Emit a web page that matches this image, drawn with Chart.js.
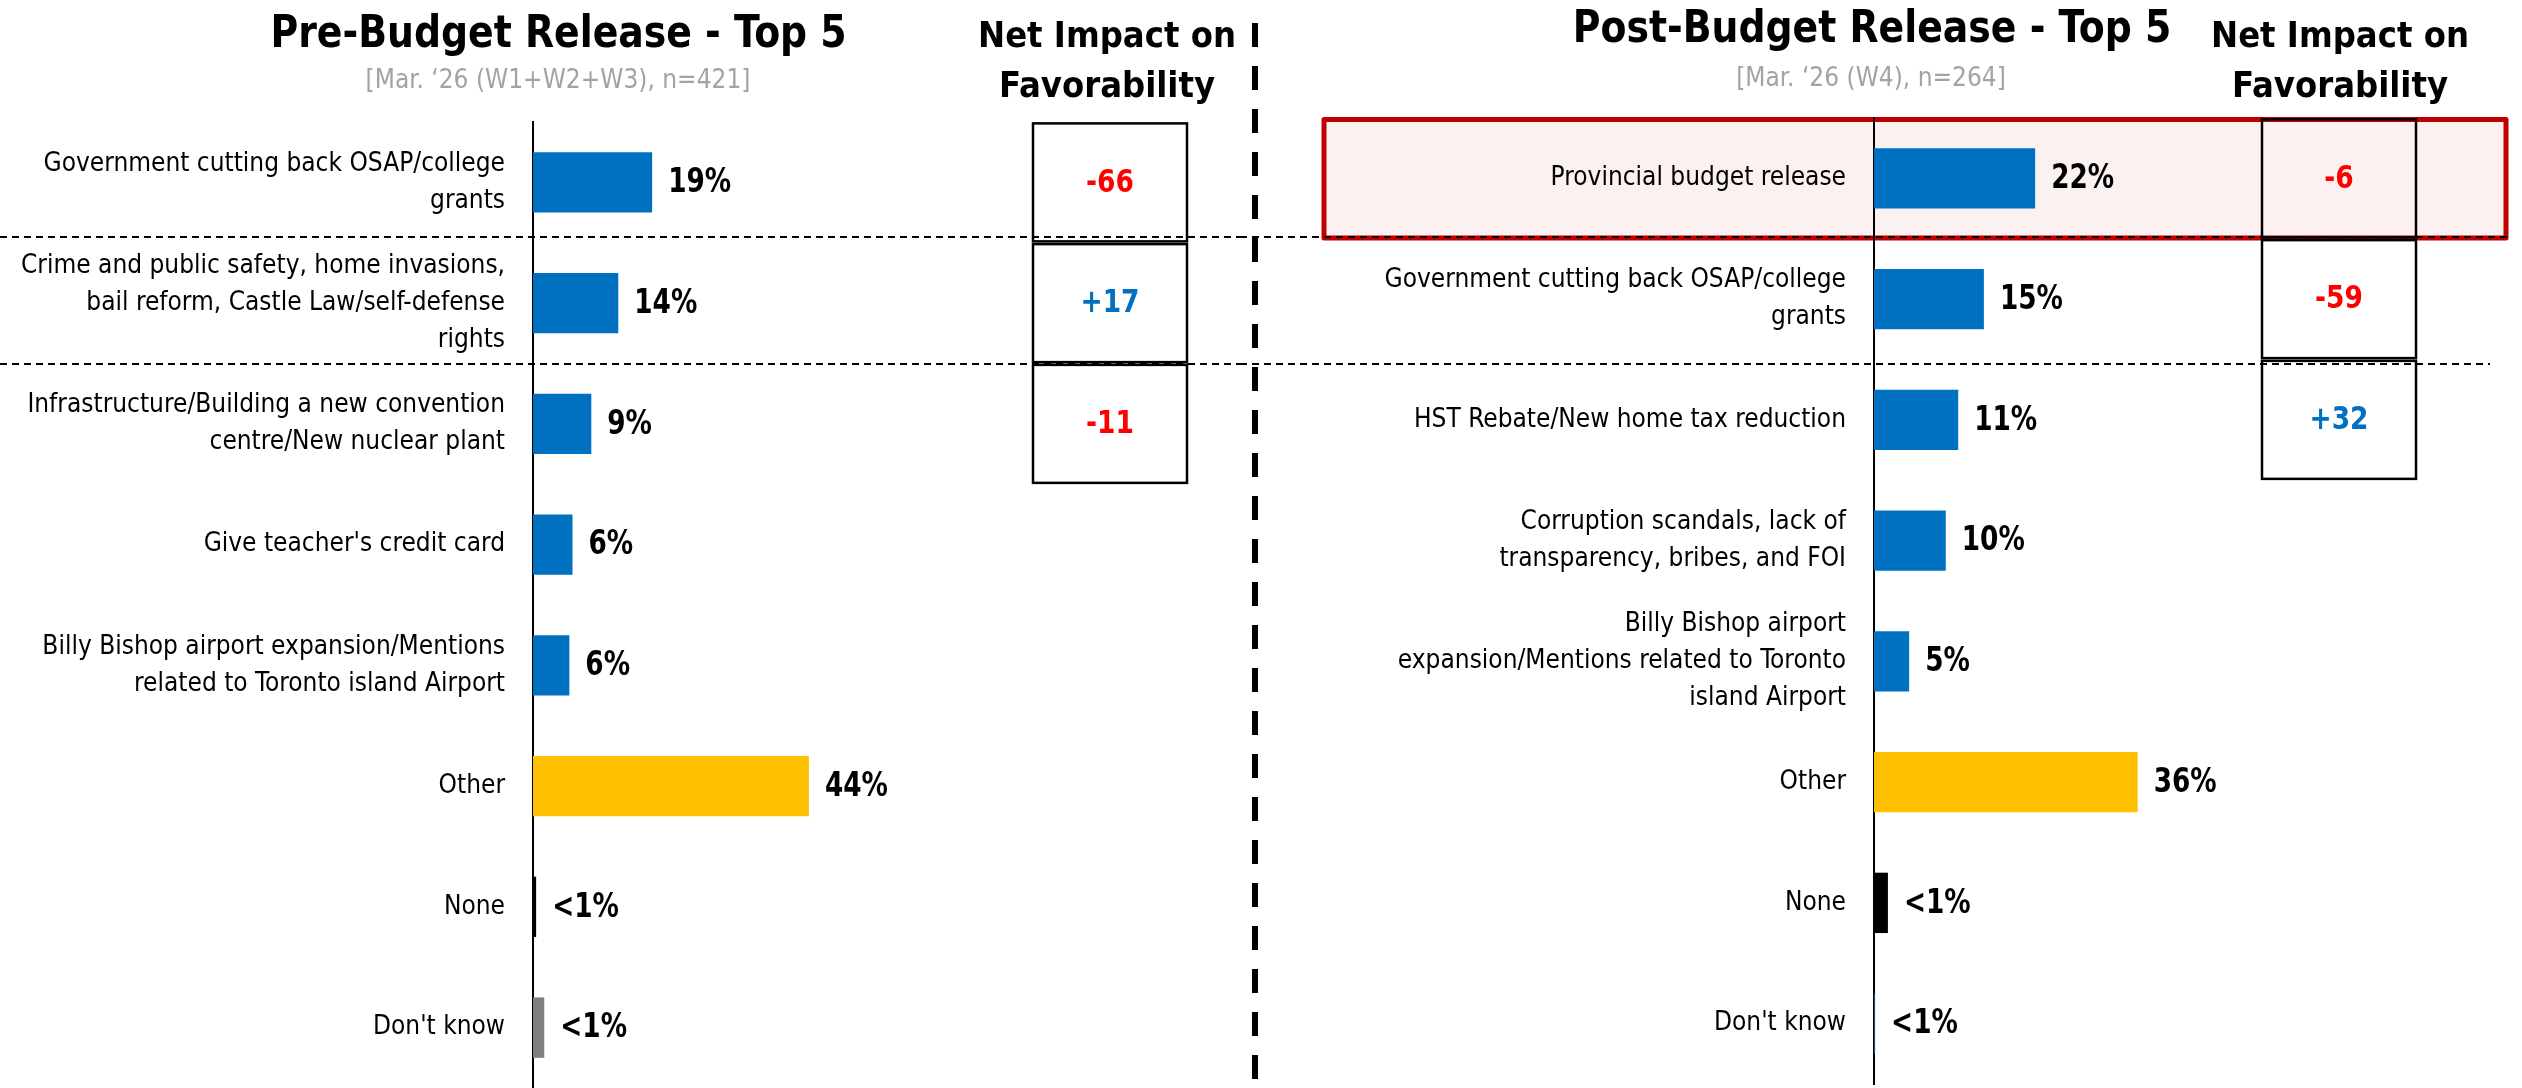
<!DOCTYPE html>
<html>
<head>
<meta charset="utf-8">
<title>Pre vs Post Budget Release - Top 5</title>
<script src="https://cdn.jsdelivr.net/npm/chart.js"></script>
<style>
  html, body { margin: 0; padding: 0; background: #fff; }
  body {
    width: 2522px; height: 1088px; position: relative; overflow: hidden;
    font-family: 'DejaVu Sans Condensed', 'DejaVu Sans', sans-serif;
  }
  .panel { position: absolute; top: 0; height: 1088px; }
  #leftPanel { left: 0; width: 1240px; }
  #rightPanel { left: 1240px; width: 1282px; }
  .hdr { position: absolute; text-align: center; white-space: nowrap; color: #000; }
  .title { font-weight: bold; font-size: 44px; line-height: 60px; transform: scaleX(0.955); }
  .sub { font-size: 26px; line-height: 30px; color: #a3a3a3; }
  .net { font-weight: bold; font-size: 36px; line-height: 50px; }
</style>
</head>
<body>
<div class="panel" id="leftPanel"><canvas id="preChart" width="1240" height="1088"></canvas></div>
<div class="panel" id="rightPanel"><canvas id="postChart" width="1282" height="1088"></canvas></div>

<div class="hdr title" style="left:257px; width:600px; top:2px;">Pre-Budget Release - Top 5</div>
<div class="hdr sub" style="left:358px; width:400px; top:64px;">[Mar. ‘26 (W1+W2+W3), n=421]</div>
<div class="hdr net" style="left:957px; width:300px; top:10px;">Net Impact on<br>Favorability</div>

<div class="hdr title" style="left:1552px; width:640px; top:-3px;">Post-Budget Release - Top 5</div>
<div class="hdr sub" style="left:1671px; width:400px; top:62px;">[Mar. ‘26 (W4), n=264]</div>
<div class="hdr net" style="left:2190px; width:300px; top:10px;">Net Impact on<br>Favorability</div>

<script>
// Pre-budget panel data
const preCategories = [
    ['Government cutting back OSAP/college', 'grants'],
    ['Crime and public safety, home invasions,', 'bail reform, Castle Law/self-defense', 'rights'],
    ['Infrastructure/Building a new convention', 'centre/New nuclear plant'],
    "Give teacher's credit card",
    ['Billy Bishop airport expansion/Mentions', 'related to Toronto island Airport'],
    'Other',
    'None',
    "Don't know"
];
const preValues = [19, 13.6, 9.3, 6.3, 5.8, 44, 0.5, 1.8];
const preValueLabels = ['19%', '14%', '9%', '6%', '6%', '44%', '<1%', '<1%'];
const preNetImpact = [-66, 17, -11];

// Post-budget panel data
const postCategories = [
    'Provincial budget release',
    ['Government cutting back OSAP/college', 'grants'],
    'HST Rebate/New home tax reduction',
    ['Corruption scandals, lack of', 'transparency, bribes, and FOI'],
    ['Billy Bishop airport', 'expansion/Mentions related to Toronto', 'island Airport'],
    'Other',
    'None',
    "Don't know"
];
const postValues = [22, 15, 11.5, 9.8, 4.8, 36, 1.9, 0.15];
const postValueLabels = ['22%', '15%', '11%', '10%', '5%', '36%', '<1%', '<1%'];
const postNetImpact = [-6, -59, 32];

// Colours
const BLUE = '#0070C0';
const YELLOW = '#FFC000';
const RED = '#FF0000';
const preColors = [BLUE, BLUE, BLUE, BLUE, BLUE, YELLOW, '#000000', '#7F7F7F'];
const postColors = [BLUE, BLUE, BLUE, BLUE, BLUE, YELLOW, '#000000', '#1F4E79'];

const FONT = "'DejaVu Sans Condensed', 'DejaVu Sans', sans-serif";

// narrower text, closer to the original Calibri look
function squeezedText(ctx, text, x, y, sx) {
    ctx.save();
    ctx.translate(x, y);
    ctx.scale(sx, 1);
    ctx.fillText(text, 0, 0);
    ctx.restore();
}

/**
 * Draws separators, highlight box, value labels and the net impact boxes
 */
const panelDecor = {
    id: 'panelDecor',
    beforeDraw(chart, args, o) {
        const ctx = chart.ctx;
        ctx.save();
        if (o.highlight) {
            const h = o.highlight;
            ctx.fillStyle = '#FBF1F1';
            ctx.fillRect(h.x, h.y, h.w, h.h);
            ctx.lineWidth = 5;
            ctx.strokeStyle = '#C00000';
            ctx.lineJoin = 'round';
            ctx.strokeRect(h.x, h.y, h.w, h.h);
        }
        ctx.strokeStyle = '#000';
        ctx.lineWidth = 2;
        ctx.setLineDash([7, 5]);
        o.separators.forEach(s => {
            ctx.beginPath();
            ctx.moveTo(s.x0, s.y);
            ctx.lineTo(s.x1, s.y);
            ctx.stroke();
        });
        if (o.divider) {
            ctx.lineWidth = 6;
            ctx.setLineDash([24, 19]);
            ctx.beginPath();
            ctx.moveTo(o.divider.x, o.divider.y0);
            ctx.lineTo(o.divider.x, o.divider.y1);
            ctx.stroke();
        }
        ctx.restore();
    },
    afterDatasetsDraw(chart, args, o) {
        const ctx = chart.ctx;
        const meta = chart.getDatasetMeta(0);
        const yScale = chart.scales.y;
        ctx.save();

        // value labels
        ctx.font = 'bold 34px ' + FONT;
        ctx.fillStyle = '#000';
        ctx.textAlign = 'left';
        ctx.textBaseline = 'middle';
        meta.data.forEach((bar, i) => {
            squeezedText(ctx, o.valueLabels[i], bar.x + 16, bar.y + 1, 0.86);
        });

        // net impact boxes
        ctx.textAlign = 'center';
        ctx.font = 'bold 32px ' + FONT;
        o.netValues.forEach((v, i) => {
            const cy = yScale.getPixelForValue(i);
            ctx.lineWidth = 2.5;
            ctx.strokeStyle = '#000';
            ctx.strokeRect(o.netX - 77, cy - 59, 154, 118);
            ctx.fillStyle = v < 0 ? RED : BLUE;
            squeezedText(ctx, (v > 0 ? '+' : '') + v, o.netX, cy + 1, 0.92);
        });
        ctx.restore();
    }
};

function makePanel(canvasId, categories, values, colors, decor, layout) {
    const ctx = document.getElementById(canvasId);
    return new Chart(ctx, {
        type: 'bar',
        data: {
            labels: categories,
            datasets: [{
                data: values,
                backgroundColor: colors,
                borderWidth: 0,
                barPercentage: 0.5,
                categoryPercentage: 1
            }]
        },
        plugins: [panelDecor],
        options: {
            indexAxis: 'y',
            responsive: false,
            animation: false,
            layout: {
                padding: layout.padding
            },
            scales: {
                x: {
                    display: false,
                    min: 0,
                    max: layout.max
                },
                y: {
                    afterFit: function(scale) {
                        // fixed axis position, no extra room for first/last label
                        scale.width = layout.axisX;
                        scale.paddingTop = 0;
                        scale.paddingBottom = 0;
                    },
                    grid: { display: false, drawTicks: false },
                    border: { display: true, color: '#000', width: 2 },
                    ticks: {
                        padding: 28,
                        color: '#000',
                        autoSkip: false,
                        font: { family: FONT, size: 26, lineHeight: 1.42 }
                    }
                }
            },
            plugins: {
                legend: { display: false },
                tooltip: { enabled: false },
                panelDecor: decor
            }
        }
    });
}

function initCharts() {
    makePanel('preChart', preCategories, preValues, preColors, {
        valueLabels: preValueLabels,
        netValues: preNetImpact,
        netX: 1110,
        separators: [
            { y: 237, x0: 0, x1: 1240 },
            { y: 364, x0: 0, x1: 1240 }
        ]
    }, {
        axisX: 533,
        max: 100,
        padding: { top: 122, bottom: 0, left: 0, right: 80 }
    });

    makePanel('postChart', postCategories, postValues, postColors, {
        valueLabels: postValueLabels,
        netValues: postNetImpact,
        netX: 1099,
        highlight: { x: 84, y: 119.5, w: 1182, h: 118.5 },
        divider: { x: 15, y0: 23, y1: 1088 },
        separators: [
            { y: 237, x0: 0, x1: 1268 },
            { y: 364, x0: 0, x1: 1250 }
        ]
    }, {
        axisX: 634,
        max: 80,
        padding: { top: 118, bottom: 4, left: 0, right: 62 }
    });
}

document.addEventListener('DOMContentLoaded', initCharts);
</script>
</body>
</html>
